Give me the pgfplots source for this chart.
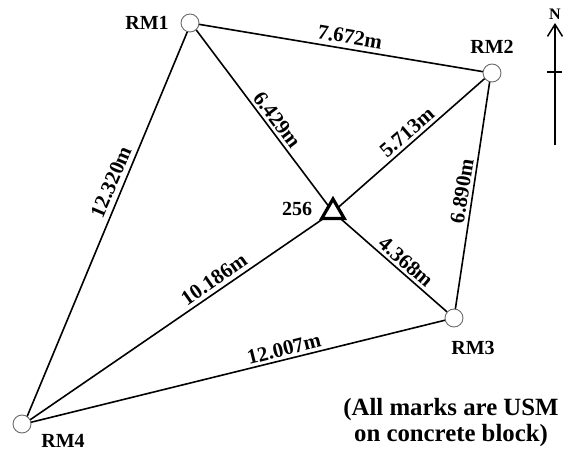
\documentclass[border=0pt]{standalone}
\usepackage{pgfplots}
\pgfplotsset{compat=1.18}
\usetikzlibrary{arrows.meta}
\usepackage{fontspec}
\setmainfont{Liberation Serif}
\newcommand{\lab}{\fontsize{20}{22}\selectfont\bfseries}
\newcommand{\edge}{\fontsize{21}{23}\selectfont\bfseries}
\begin{document}
\begin{tikzpicture}
\useasboundingbox (0,0) rectangle (571pt,452pt);
\begin{axis}[
    at={(0,0)}, anchor=south west,
    scale only axis, width=571pt, height=452pt,
    xmin=0, xmax=571, ymin=0, ymax=452, y dir=reverse,
    axis lines=none, clip=false, ticks=none,
    sv/.style={black, line width=1.6pt, mark=none},
]
% survey lines
\addplot[sv] coordinates {(191,23) (491,73)};
\addplot[sv] coordinates {(191,23) (333,212)};
\addplot[sv] coordinates {(333,212) (454,318)};
\addplot[sv] coordinates {(491,73) (454,318)};
\addplot[sv] coordinates {(491,73) (333,212)};
\addplot[sv] coordinates {(333,212) (24,424)};
\addplot[sv] coordinates {(191,23) (24,424)};
\addplot[sv] coordinates {(454,318) (24,424)};
% north arrow
\addplot[black, line width=1.5pt, -{Straight Barb[length=12pt,width=15pt]}] coordinates {(555,145) (555,23)};
\addplot[black, line width=1.2pt] coordinates {(547,72) (562,72)};
% marks
\addplot[only marks, mark=*, mark size=9, mark options={fill=white, draw=gray!85!black, line width=0.9pt}]
    coordinates {(190,23) (492,73) (454,318) (22,424)};
\addplot[only marks, mark=triangle*, mark size=13, mark options={fill=white, draw=black, line width=3.2pt}]
    coordinates {(333,212)};
% edge labels
\node[rotate=-9.5] at (axis cs:350,37) {\edge 7.672m};
\node[rotate=-53] at (axis cs:277,120) {\edge 6.429m};
\node[rotate=67] at (axis cs:111,182) {\edge 12.320m};
\node[rotate=81] at (axis cs:462,191) {\edge 6.890m};
\node[rotate=41] at (axis cs:407,132) {\edge 5.713m};
\node[rotate=-41] at (axis cs:406,262) {\edge 4.368m};
\node[rotate=35] at (axis cs:214,279) {\edge 10.186m};
\node[rotate=14] at (axis cs:284,349) {\edge 12.007m};
% station labels
\node at (axis cs:147,23) {\lab RM1};
\node at (axis cs:492,47) {\lab RM2};
\node at (axis cs:473,348) {\lab RM3};
\node at (axis cs:63,441) {\lab RM4};
\node at (axis cs:297,209) {\lab 256};
\node at (axis cs:555,14) {\fontsize{16}{16}\selectfont\bfseries N};
\node[align=center, font=\fontsize{24.8}{26}\selectfont\bfseries] at (axis cs:451,423) {(All marks are USM\\on concrete block)};
\end{axis}
\end{tikzpicture}
\end{document}
